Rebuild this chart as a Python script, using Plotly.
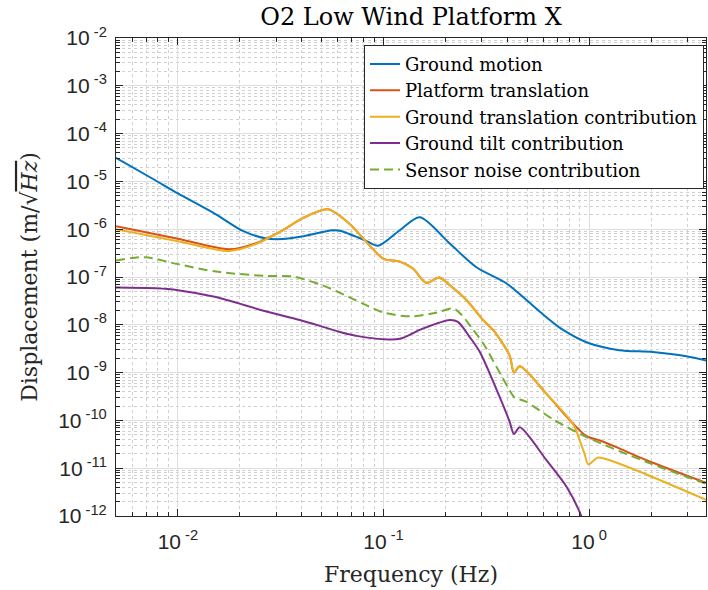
import numpy as np
import plotly.graph_objects as go

# ---------------- data ----------------
f_ground = [0.005, 0.0075, 0.01, 0.0153, 0.0207, 0.0268, 0.0323, 0.040, 0.0565, 0.0614,
            0.081, 0.094, 0.12, 0.15, 0.21, 0.283, 0.397, 0.576, 0.747, 1.0, 1.4, 2.04, 2.97, 3.78]
v_ground = [3.1e-5, 1.15e-5, 5.6e-6, 2.05e-6, 9.2e-7, 6.4e-7, 6.2e-7, 7.0e-7, 9.5e-7, 9.3e-7,
            5.9e-7, 4.5e-7, 9.5e-7, 1.78e-6, 5.0e-7, 1.6e-7, 7.3e-8, 1.87e-8, 7.8e-9, 4.1e-9,
            2.95e-9, 2.7e-9, 2.2e-9, 1.75e-9]

f_plat = [0.005, 0.01, 0.0178, 0.024, 0.0323, 0.0403, 0.0535, 0.068, 0.081, 0.1, 0.12, 0.139,
          0.161, 0.187, 0.21, 0.253, 0.305, 0.341, 0.41, 0.431, 0.46, 0.62, 0.836, 0.97, 1.13,
          1.4, 1.9, 3.78]
v_plat = [1.16e-6, 6.3e-7, 3.8e-7, 5.1e-7, 9.5e-7, 1.68e-6, 2.6e-6, 1.32e-6, 5.9e-7, 2.4e-7,
          2.1e-7, 1.5e-7, 7.6e-8, 9.8e-8, 6.7e-8, 3.3e-8, 1.26e-8, 7.8e-9, 2.3e-9, 1.0e-9,
          1.35e-9, 3.6e-10, 8.5e-11, 4.7e-11, 3.8e-11, 2.6e-11, 1.47e-11, 4.8e-12]

f_gtrans = [0.005, 0.01, 0.0178, 0.024, 0.0323, 0.0403, 0.0535, 0.068, 0.081, 0.1, 0.12, 0.139,
            0.161, 0.187, 0.21, 0.253, 0.305, 0.341, 0.41, 0.431, 0.46, 0.62, 0.836, 0.9, 0.95,
            0.99, 1.1, 1.3, 1.9, 3.78]
v_gtrans = [1.0e-6, 5.6e-7, 3.5e-7, 4.9e-7, 9.5e-7, 1.68e-6, 2.6e-6, 1.32e-6, 5.9e-7, 2.4e-7,
            2.1e-7, 1.5e-7, 7.6e-8, 9.8e-8, 6.7e-8, 3.3e-8, 1.26e-8, 7.8e-9, 2.3e-9, 1.0e-9,
            1.35e-9, 3.6e-10, 8.3e-11, 3.8e-11, 2.0e-11, 1.2e-11, 1.66e-11, 1.4e-11, 7.4e-12, 2.1e-12]

f_tilt = [0.005, 0.0078, 0.01, 0.0153, 0.0258, 0.0392, 0.0614, 0.0753, 0.1, 0.12, 0.155, 0.21,
          0.23, 0.262, 0.294, 0.367, 0.41, 0.431, 0.46, 0.62, 0.776, 0.9, 1.0]
v_tilt = [6.0e-8, 5.8e-8, 5.3e-8, 3.8e-8, 2.0e-8, 1.26e-8, 7.1e-9, 5.8e-9, 5.0e-9, 5.1e-9,
          8.3e-9, 1.26e-8, 1.15e-8, 5.6e-9, 2.7e-9, 3.1e-10, 9.5e-11, 5.2e-11, 7.2e-11, 1.47e-11,
          4.1e-12, 1.2e-12, 3.0e-13]

f_sensor = [0.005, 0.0069, 0.01, 0.0153, 0.0268, 0.036, 0.0506, 0.068, 0.082, 0.1, 0.135, 0.18,
            0.218, 0.24, 0.273, 0.305, 0.381, 0.42, 0.435, 0.49, 0.668, 0.97, 1.9, 3.78]
v_sensor = [2.2e-7, 2.6e-7, 1.86e-7, 1.3e-7, 1.05e-7, 1.03e-7, 6.7e-8, 3.8e-8, 2.6e-8, 1.8e-8,
            1.5e-8, 1.78e-8, 2.2e-8, 1.6e-8, 7.8e-9, 4.1e-9, 7.5e-10, 3.6e-10, 2.96e-10, 2.5e-10,
            1.05e-10, 4.5e-11, 1.35e-11, 4.6e-12]

series_names = ["Ground motion", "Platform translation", "Ground translation contribution",
                "Ground tilt contribution", "Sensor noise contribution"]
series_colors = ["#0072BD", "#D95319", "#EDB120", "#7E2F8E", "#77AC30"]

y_ticks = [10.0 ** e for e in range(-12, -1)]
y_ticktext = ["10<sup>\u00a0%d</sup>" % e for e in range(-12, -1)]
x_ticks = [1e-2, 1e-1, 1e0]
x_ticktext = ["10<sup>\u00a0-2</sup>", "10<sup>\u00a0-1</sup>", "10<sup>\u00a00</sup>"]

x_min, x_max = 0.005, 3.7
y_min, y_max = 1e-12, 1e-2

SERIF = "DejaVu Serif, serif"
SANS = "Liberation Sans, Arial, sans-serif"

# ---------------- figure ----------------
fig = go.Figure()
data = [(f_ground, v_ground), (f_plat, v_plat), (f_gtrans, v_gtrans),
        (f_tilt, v_tilt), (f_sensor, v_sensor)]
for (fx, vy), name, col in zip(data, series_names, series_colors):
    fig.add_trace(go.Scatter(
        x=fx, y=vy, name=name, mode="lines",
        line=dict(color=col, width=2, shape="spline", smoothing=0.8,
                  dash="9px,5px" if name.startswith("Sensor") else "solid"),
    ))

def minor_vals(lo, hi):
    out = []
    for e in range(int(np.floor(np.log10(lo))), int(np.ceil(np.log10(hi))) + 1):
        for m in range(2, 10):
            v = m * 10.0 ** e
            if lo <= v <= hi:
                out.append(v)
    return out

axis_common = dict(
    showline=True, linecolor="#262626", linewidth=1, mirror="ticks",
    ticks="inside", ticklen=7, tickcolor="#262626", tickwidth=1,
    showgrid=True, gridcolor="#dedede", gridwidth=1,
    tickfont=dict(family=SANS, size=21, color="#262626"),
    zeroline=False,
)

fig.update_xaxes(
    type="log", range=[np.log10(x_min), np.log10(x_max)],
    tickmode="array", tickvals=x_ticks, ticktext=x_ticktext, ticklabelstandoff=7,
    minor=dict(tickmode="array", tickvals=minor_vals(x_min, x_max), ticks="inside", ticklen=4,
               tickcolor="#262626", showgrid=True, gridcolor="#d0d0d0", griddash="dot", gridwidth=1),
    title=dict(text="Frequency (Hz)", standoff=14,
               font=dict(family=SERIF, size=22, color="#262626")),
    **axis_common,
)
fig.update_yaxes(
    type="log", range=[np.log10(y_min), np.log10(y_max)],
    tickmode="array", tickvals=y_ticks, ticktext=y_ticktext, ticklabelstandoff=4,
    minor=dict(tickmode="array", tickvals=minor_vals(y_min, y_max), ticks="inside", ticklen=4,
               tickcolor="#262626", showgrid=True, gridcolor="#d0d0d0", griddash="dot", gridwidth=1),
    title=dict(text='Displacement (m/\u221A<span style="text-decoration:overline"><i>Hz</i></span>)',
               standoff=14,
               font=dict(family=SERIF, size=22, color="#262626")),
    **axis_common,
)

fig.update_layout(
    width=708, height=590,
    margin=dict(l=116, r=2, t=38, b=74, autoexpand=False),
    paper_bgcolor="white", plot_bgcolor="white",
    title=dict(text="O2 Low Wind Platform X", x=(116 + 706) / 2 / 708, xanchor="center",
               y=1 - 17 / 590, yanchor="middle",
               font=dict(family=SERIF, size=24, color="black")),
    legend=dict(x=0.9966, xanchor="right", y=0.986, yanchor="top",
                bgcolor="white", bordercolor="#262626", borderwidth=1,
                font=dict(family=SERIF, size=18, color="black"),
                tracegroupgap=0),
    showlegend=True,
)

fig.write_html("out.html")
